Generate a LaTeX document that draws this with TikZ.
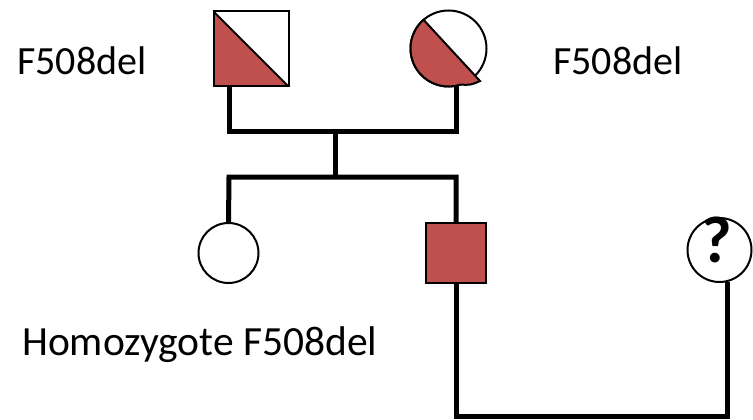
\documentclass[tikz,border=0pt]{standalone}
\usepackage{fontspec}
\setmainfont{Carlito}
\usetikzlibrary{calc,backgrounds}
\definecolor{aff}{HTML}{C0504D}
\begin{document}
\begin{tikzpicture}[x=1pt,y=-1pt,
  sym/.style={draw=black,line width=2pt,fill=white,inner sep=0pt,outer sep=0pt},
  sqsym/.style={sym,rectangle},
  cisym/.style={sym,circle},
  link/.style={line width=5pt,line join=miter,draw=black},
  lbl/.style={inner sep=0pt,anchor=base west,font=\fontsize{40}{48}\selectfont}]
\useasboundingbox (0,0) rectangle (753,420);
% coordinates for stems
\coordinate (fx) at (229,0);
\coordinate (mx) at (456,0);
\coordinate (qx) at (727,0);
% father
\node[sqsym,minimum size=75pt] (father) at (251,49) {};
\fill[aff] (father.north west) -- (father.south east) -- (father.south west) -- cycle;
\draw[line width=2pt] (father.north west) rectangle (father.south east);
\draw[line width=2pt] (father.north west) -- (father.south east);
% mother
\node[cisym,minimum size=76pt] (mother) at (448.5,48.5) {};
\coordinate (mtip) at (480,81);
\filldraw[fill=aff,line width=2pt,line join=miter] (mother.center) ++(229:38) arc[start angle=229,end angle=72,radius=38] .. controls (471,85) .. (mtip) -- cycle;
% children
\node[cisym,minimum size=60pt] (daughter) at (228.5,253) {};
\node[sqsym,fill=aff,minimum size=60pt] (son) at (456,252.5) {};
\node[cisym,minimum size=64pt] (query) at (719.5,250) {};
\node[inner sep=0pt,font=\fontsize{66}{66}\selectfont\bfseries] (qm) at (717,240) {?};
% labels
\node[lbl] (lf) at (17,75) {F508del};
\node[lbl] (lm) at (553,75) {F508del};
\node[lbl,font=\fontsize{41.5}{48}\selectfont] (ld) at (22,355) {Homozygote F508del};
% links
\begin{scope}[on background layer]
\draw[link] (father.south -| fx) -- (229,131) -- (456,131) -- (mother.south -| mx);
\coordinate (sib) at (335,177);
\draw[link] (335,131) -- (sib);
\draw[link] (daughter.north) -- (229,177) -- (456,177) -- (son.north);
\draw[link] (son.south) -- (456,416) -- (727,416) -- (query.south -| qx);
\end{scope}
\end{tikzpicture}
\end{document}
